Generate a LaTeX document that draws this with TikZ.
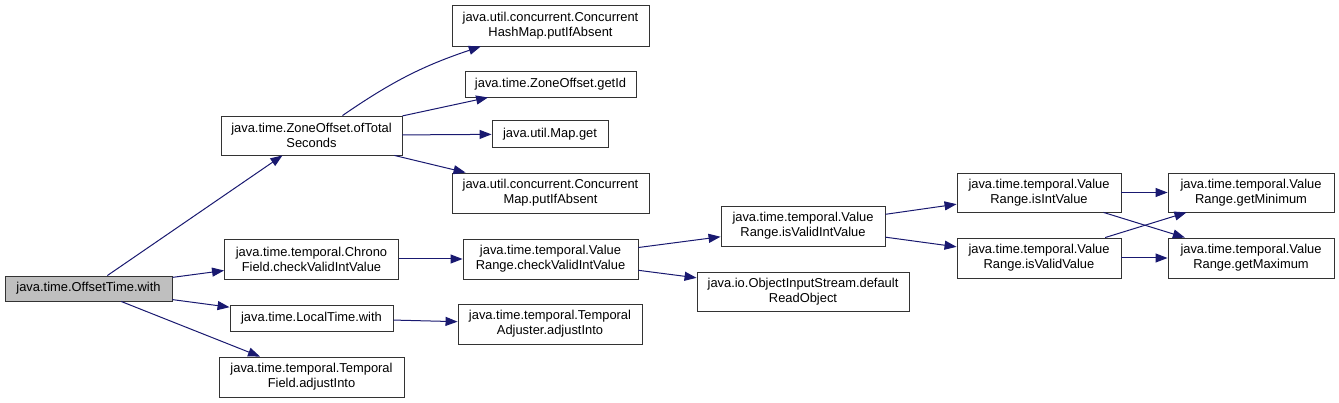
\documentclass[tikz,border=0pt]{standalone}
\usepackage{fontspec}
\setmainfont{Liberation Sans}
\usetikzlibrary{arrows.meta}

\definecolor{edgeblue}{HTML}{191970}
\definecolor{rootgray}{HTML}{BFBFBF}

\tikzset{
    fn/.style={draw=black!80, line width=0.9pt, align=center, inner sep=0pt,
        font=\fontsize{12.9}{15}\selectfont},
    call/.style={draw=edgeblue, line width=1pt, -{Triangle[length=12pt,width=9pt]}}
}

\begin{document}
\begin{tikzpicture}[x=1pt,y=-1pt]

\useasboundingbox (0,0) rectangle (1339,403);

% Caller
\node[fn, fill=rootgray, minimum width=167pt, minimum height=25pt] (root) at (88.5,288.5) {java.time.OffsetTime.with};

% First level
\node[fn, minimum width=181pt, minimum height=39pt] (ofTotal) at (311.5,135.5) {java.time.ZoneOffset.ofTotal\\Seconds};
\node[fn, minimum width=174pt, minimum height=40pt] (chrono) at (311.5,259) {java.time.temporal.Chrono\\Field.checkValidIntValue};
\node[fn, minimum width=163pt, minimum height=26pt] (localWith) at (311.5,318) {java.time.LocalTime.with};
\node[fn, minimum width=185pt, minimum height=40pt] (fieldAdjust) at (311.5,377) {java.time.temporal.Temporal\\Field.adjustInto};

% Second level
\node[fn, minimum width=197pt, minimum height=41pt] (chmPut) at (550.5,25.5) {java.util.concurrent.Concurrent\\HashMap.putIfAbsent};
\node[fn, minimum width=171pt, minimum height=26pt] (getId) at (550.5,84) {java.time.ZoneOffset.getId};
\node[fn, minimum width=116pt, minimum height=27pt] (mapGet) at (550,134) {java.util.Map.get};
\node[fn, minimum width=197pt, minimum height=40pt] (cmPut) at (550.5,193) {java.util.concurrent.Concurrent\\Map.putIfAbsent};
\node[fn, minimum width=175pt, minimum height=40pt] (checkValid) at (550.5,259) {java.time.temporal.Value\\Range.checkValidIntValue};
\node[fn, minimum width=184pt, minimum height=40pt] (adjAdjust) at (550,324) {java.time.temporal.Temporal\\Adjuster.adjustInto};

% Third level
\node[fn, minimum width=164pt, minimum height=40pt] (isValidInt) at (803,226) {java.time.temporal.Value\\Range.isValidIntValue};
\node[fn, minimum width=212pt, minimum height=39pt] (readObj) at (803,291.5) {java.io.ObjectInputStream.default\\ReadObject};

% Fourth level
\node[fn, minimum width=164pt, minimum height=39pt] (isInt) at (1039,192.5) {java.time.temporal.Value\\Range.isIntValue};
\node[fn, minimum width=164pt, minimum height=40pt] (isValid) at (1039,258) {java.time.temporal.Value\\Range.isValidValue};
\node[fn, minimum width=166pt, minimum height=39pt] (getMin) at (1251,192.5) {java.time.temporal.Value\\Range.getMinimum};
\node[fn, minimum width=166pt, minimum height=40pt] (getMax) at (1251,258) {java.time.temporal.Value\\Range.getMaximum};

% Calls
\draw[call] (root) -- (ofTotal);
\draw[call] (root) -- (chrono);
\draw[call] (root) -- (localWith);
\draw[call] (root) -- (fieldAdjust);

\draw[call] (ofTotal) to[bend left=8] (chmPut);
\draw[call] (ofTotal) -- (getId);
\draw[call] (ofTotal) -- (mapGet);
\draw[call] (ofTotal) -- (cmPut);

\draw[call] (chrono) -- (checkValid);
\draw[call] (localWith) -- (adjAdjust);

\draw[call] (checkValid) -- (isValidInt);
\draw[call] (checkValid) -- (readObj);

\draw[call] (isValidInt) -- (isInt);
\draw[call] (isValidInt) -- (isValid);

\draw[call] (isInt) -- (getMin);
\draw[call] (isInt) -- (getMax);
\draw[call] (isValid) -- (getMin);
\draw[call] (isValid) -- (getMax);

\end{tikzpicture}
\end{document}
